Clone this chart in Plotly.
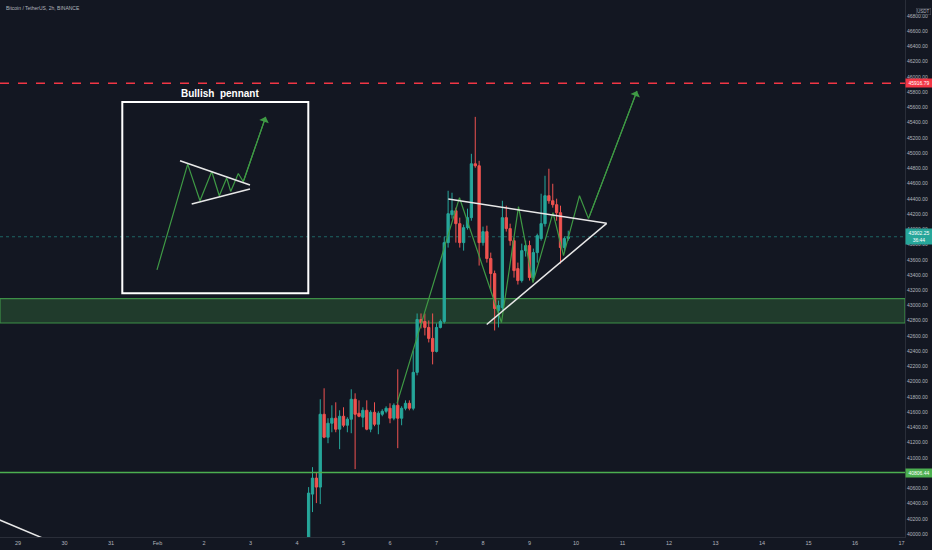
import pandas as pd
import plotly.graph_objects as go

# ---------------- data ----------------
start_time = "2022-02-04 06:00"
opens = [39856, 40524, 40734, 40616, 41572, 41271, 41454, 41520, 41376, 41546,
         41428, 41507, 41769, 41585, 41533, 41624, 41376, 41598, 41441, 41572,
         41611, 41651, 41520, 41690, 41520, 41651, 41716, 41651, 42122, 42816,
         42790, 42712, 42568, 42397, 42712, 42790, 43825, 44192, 44244, 44074,
         43825, 44022, 44153, 44860, 44834, 43825, 43969, 43616, 43419, 42934,
         42974, 44153, 44009, 43851, 43484, 43327, 43720, 43786, 43367, 43694,
         43878, 44074, 44441, 44375, 44323, 44218, 43760, 43878]
highs = [40616, 40878, 40812, 41769, 41913, 41520, 41690, 41729, 41624, 41664,
         41533, 41900, 41847, 41755, 41664, 41755, 41624, 41729, 41611, 41638,
         41677, 41716, 41716, 42162, 41677, 41755, 41755, 42410, 42895, 42895,
         42895, 42803, 42895, 42764, 42816, 43904, 44506, 44480, 44284, 44153,
         44061, 44271, 44991, 45476, 44899, 44035, 44048, 43694, 43458, 43065,
         44375, 44310, 44074, 43890, 43563, 43812, 43851, 43851, 43747, 43943,
         44467, 44703, 44795, 44598, 44402, 44310, 43904, 43982]
lows = [39790, 40288, 40406, 40393, 41258, 41192, 41336, 41336, 41114, 41402,
        41336, 41323, 40852, 41533, 41402, 41362, 41336, 41415, 41310, 41546,
        41585, 41454, 41493, 41127, 41428, 41624, 41624, 41624, 42083, 42699,
        42607, 42515, 42227, 42384, 42699, 42764, 43760, 44140, 43825, 43760,
        43720, 43996, 44113, 44808, 43524, 43786, 43563, 43196, 42672, 42712,
        42934, 43970, 43786, 43366, 43275, 43301, 43642, 43327, 43341, 43563,
        43851, 44035, 44336, 44284, 44113, 43550, 43694, 43851]
closes = [40537, 40734, 40616, 41572, 41271, 41454, 41520, 41376, 41546, 41428,
          41507, 41769, 41572, 41546, 41624, 41376, 41598, 41441, 41585, 41611,
          41651, 41520, 41690, 41520, 41651, 41716, 41651, 42122, 42816, 42777,
          42712, 42568, 42397, 42712, 42790, 43825, 44205, 44244, 44074, 43825,
          44022, 44153, 44860, 44834, 43825, 43969, 43616, 43419, 42961, 43000,
          44153, 44009, 43851, 43458, 43327, 43720, 43786, 43367, 43694, 43917,
          44074, 44441, 44375, 44323, 44218, 43760, 43878, 43902.25]

resistance_level = 45916.79
support_level = 40806.44
last_price = 43902.25
countdown = "36:44"
zone_low, zone_high = 42770, 43090

day_ticks = pd.date_range("2022-01-29", "2022-02-17", freq="D")
day_labels = ["29", "30", "31", "Feb", "2", "3", "4", "5", "6", "7", "8", "9",
              "10", "11", "12", "13", "14", "15", "16", "17"]
price_ticks = list(range(40000, 47001, 200))

# drawings (time, price)
pennant_top = [("2022-02-07 06:05", 44398), ("2022-02-10 15:50", 44078)]
pennant_bottom = [("2022-02-08 01:55", 42751), ("2022-02-10 15:50", 44078)]
projection_path = [("2022-02-06 03:37", 41716), ("2022-02-07 11:52", 44415),
                   ("2022-02-08 09:33", 42777), ("2022-02-08 18:19", 44297),
                   ("2022-02-09 01:48", 43301), ("2022-02-09 12:08", 44218),
                   ("2022-02-09 17:33", 43655), ("2022-02-10 01:48", 44441),
                   ("2022-02-10 06:27", 44140), ("2022-02-11 07:29", 45816)]
old_trend = [("2022-01-28 12:07", 40211), ("2022-01-29 13:56", 39934)]

legend_box = [("2022-01-31 05:50", 45672), ("2022-02-04 05:50", 43161)]
legend_title = ("2022-02-02 08:15", 45781, "Bullish  pennant")
legend_path = [("2022-01-31 23:44", 43468), ("2022-02-01 15:35", 44856),
               ("2022-02-01 21:56", 44375), ("2022-02-02 03:59", 44759),
               ("2022-02-02 07:54", 44441), ("2022-02-02 11:43", 44673),
               ("2022-02-02 13:47", 44497), ("2022-02-02 17:42", 44733),
               ("2022-02-02 20:17", 44624), ("2022-02-03 07:51", 45476)]
legend_top = [("2022-02-01 11:37", 44899), ("2022-02-02 23:44", 44581)]
legend_bottom = [("2022-02-01 17:39", 44332), ("2022-02-02 23:44", 44529)]

x_range = ["2022-01-28 14:43", "2022-02-17 01:48"]
y_range = [39961, 47010]

# ---------------- styles ----------------
BG = "#131722"
UP = "#26a69a"
DOWN = "#ef5350"
TXT = "#b2b5be"
GREEN = "#4caf50"
DRAW_GREEN = "#3f9a45"
FONT = "Liberation Sans"

times = pd.date_range(start_time, periods=len(opens), freq="2h")

fig = go.Figure()
fig.add_trace(go.Candlestick(
    x=times, open=opens, high=highs, low=lows, close=closes,
    increasing=dict(line=dict(color=UP, width=1), fillcolor=UP),
    decreasing=dict(line=dict(color=DOWN, width=1), fillcolor=DOWN),
    whiskerwidth=0, hoverinfo="skip", showlegend=False))


def add_path(points, color, width):
    fig.add_trace(go.Scatter(
        x=[p[0] for p in points], y=[p[1] for p in points], mode="lines",
        line=dict(color=color, width=width), hoverinfo="skip", showlegend=False))


# zone band
fig.add_shape(type="rect", xref="paper", x0=0, x1=1, yref="y", y0=zone_low, y1=zone_high,
              fillcolor="rgba(76,175,80,0.24)", line=dict(color="#3d8f47", width=1.2), layer="below")
# horizontal levels
fig.add_shape(type="line", xref="paper", x0=0, x1=1, y0=resistance_level, y1=resistance_level,
              line=dict(color="#f23645", width=1.4, dash="dash"))
fig.add_shape(type="line", xref="paper", x0=0, x1=1, y0=support_level, y1=support_level,
              line=dict(color=GREEN, width=1.5))
fig.add_shape(type="line", xref="paper", x0=0, x1=1, y0=last_price, y1=last_price,
              line=dict(color="rgba(38,166,154,0.55)", width=1, dash="dot"), layer="below")

# projection path & pennant
add_path(projection_path, DRAW_GREEN, 1.2)
fig.add_annotation(x=projection_path[-1][0], y=projection_path[-1][1],
                   ax=projection_path[-2][0], ay=projection_path[-2][1],
                   xref="x", yref="y", axref="x", ayref="y", text="",
                   showarrow=True, arrowhead=1, arrowsize=1.4, arrowwidth=1.2,
                   arrowcolor=DRAW_GREEN)
add_path(pennant_top, "#e8e8e8", 1.5)
add_path(pennant_bottom, "#e8e8e8", 1.5)
add_path(old_trend, "#e8e8e8", 1.5)

# legend drawing
fig.add_shape(type="rect", xref="x", yref="y",
              x0=legend_box[0][0], y0=legend_box[0][1], x1=legend_box[1][0], y1=legend_box[1][1],
              line=dict(color="#ffffff", width=2), fillcolor="rgba(0,0,0,0)")
add_path(legend_path, DRAW_GREEN, 1.2)
fig.add_annotation(x=legend_path[-1][0], y=legend_path[-1][1],
                   ax=legend_path[-2][0], ay=legend_path[-2][1],
                   xref="x", yref="y", axref="x", ayref="y", text="",
                   showarrow=True, arrowhead=1, arrowsize=1.4, arrowwidth=1.2,
                   arrowcolor=DRAW_GREEN)
add_path(legend_top, "#e8e8e8", 1.5)
add_path(legend_bottom, "#e8e8e8", 1.5)
fig.add_annotation(x=legend_title[0], y=legend_title[1], text="<b>" + legend_title[2] + "</b>",
                   showarrow=False, font=dict(color="#ffffff", size=10, family=FONT),
                   xanchor="center", yanchor="middle")

# header
fig.add_annotation(xref="paper", yref="paper", x=0.004, y=0.994, text="Bitcoin / TetherUS, 2h, BINANCE",
                   showarrow=False, xanchor="left", yanchor="top",
                   font=dict(color=TXT, size=5, family=FONT))


# right axis labels
def price_tag(y, text, bg):
    fig.add_annotation(xref="paper", yref="y", x=1.0, y=y, text=text, showarrow=False,
                       xanchor="left", yanchor="middle", bgcolor=bg, borderpad=1,
                       width=24, align="center",
                       font=dict(color="#ffffff", size=5, family=FONT))


price_tag(resistance_level, f"{resistance_level:.2f}", "#f23645")
price_tag(last_price, f"{last_price:.2f}<br>{countdown}", UP)
price_tag(support_level, f"{support_level:.2f}", GREEN)
fig.add_annotation(xref="paper", yref="paper", x=1.012, y=0.985, text="USDT", showarrow=False,
                   xanchor="left", yanchor="top", bordercolor="#4a4e59", borderwidth=0.6,
                   borderpad=0.5, font=dict(color=TXT, size=4.5, family=FONT))

fig.update_layout(
    width=932, height=550,
    margin=dict(l=0, r=27, t=0, b=13),
    paper_bgcolor=BG, plot_bgcolor=BG,
    showlegend=False,
    boxgap=0.15,
    font=dict(family=FONT, color=TXT, size=5),
    xaxis=dict(type="date", range=x_range, rangeslider=dict(visible=False),
               tickmode="array", tickvals=day_ticks, ticktext=day_labels,
               tickfont=dict(size=5.5, color=TXT), ticks="", showgrid=False,
               zeroline=False, showline=True, linecolor="#2a2e39",
               linewidth=1, fixedrange=True),
    yaxis=dict(side="right", range=y_range, tickmode="array", tickvals=price_ticks,
               ticktext=[f"{v:.2f}" for v in price_ticks],
               tickfont=dict(size=5, color=TXT), ticks="", showgrid=False,
               zeroline=False, showline=True, linecolor="#2a2e39",
               linewidth=1, fixedrange=True),
)

fig.write_html("out.html", config={"displayModeBar": False},
               post_script="document.body.style.margin='0';document.body.style.padding='0';"
                           "document.body.style.background='#131722';")
